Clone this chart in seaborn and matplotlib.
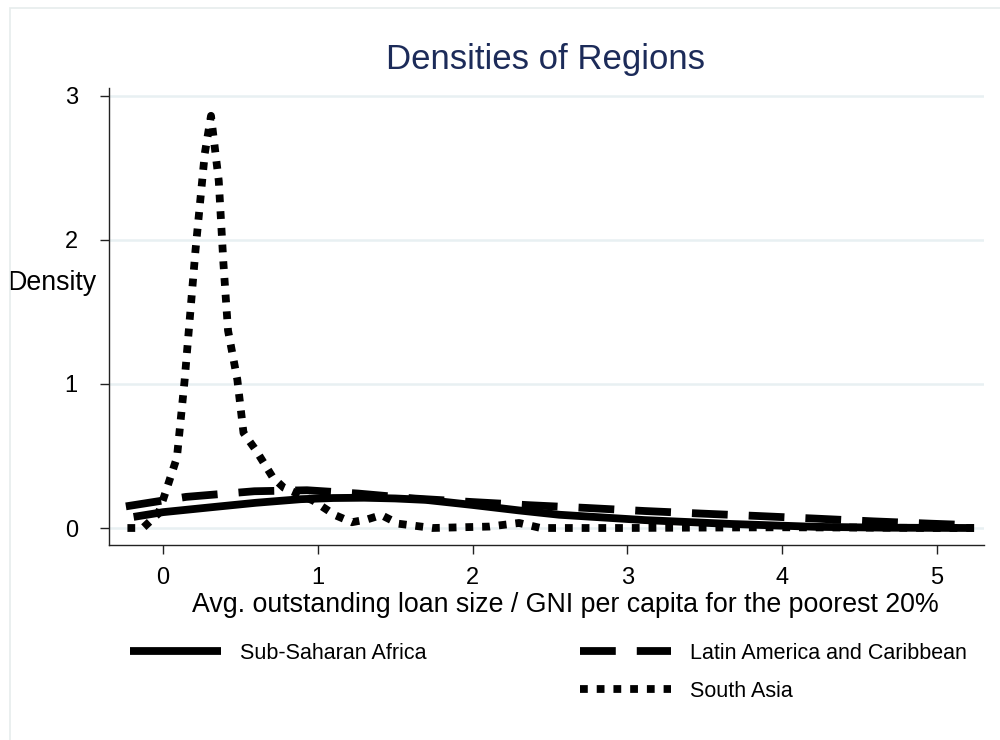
import numpy as np
import pandas as pd
import matplotlib
matplotlib.use("Agg")
import matplotlib.pyplot as plt
from matplotlib.lines import Line2D
from matplotlib.patches import Rectangle
import seaborn as sns

# Kernel density estimates by region (x = loan size / GNI per capita, poorest 20%)
ssa_x = [-0.19, 0.0, 0.33, 0.6, 0.89, 1.1, 1.3, 1.5, 1.7, 2.0, 2.3, 2.56, 3.11, 3.67, 4.22, 4.7, 5.24]
ssa_y = [0.077, 0.11, 0.146, 0.175, 0.2, 0.208, 0.21, 0.205, 0.195, 0.16, 0.122, 0.092, 0.055, 0.028, 0.008, 0.002, 0.0]

lac_x = [-0.24, 0.15, 0.59, 0.93, 1.26, 1.63, 2.0, 2.37, 2.74, 3.11, 3.48, 3.85, 4.22, 4.59, 4.96, 5.24]
lac_y = [0.15, 0.216, 0.255, 0.262, 0.239, 0.204, 0.18, 0.158, 0.139, 0.118, 0.1, 0.083, 0.065, 0.046, 0.03, 0.019]

sa_x = [-0.23, -0.13, -0.03, 0.02, 0.09, 0.14, 0.21, 0.27, 0.31, 0.36, 0.39, 0.42, 0.48, 0.52,
        0.6, 0.71, 0.78, 0.97, 1.11, 1.22, 1.32, 1.41, 1.52, 1.74, 2.11, 2.3, 2.44, 3.0, 3.5,
        4.0, 4.5, 5.0, 5.24]
sa_y = [0.0, 0.0, 0.10, 0.26, 0.49, 1.03, 1.93, 2.6, 2.86, 2.41, 1.84, 1.37, 1.03, 0.66,
        0.54, 0.35, 0.28, 0.19, 0.09, 0.04, 0.06, 0.09, 0.03, 0.0, 0.01, 0.035, 0.0, 0.0, 0.003,
        0.005, 0.003, 0.0, 0.0]

regions = ["Sub-Saharan Africa", "Latin America and Caribbean", "South Asia"]
x_ticks = [0, 1, 2, 3, 4, 5]
y_ticks = [0, 1, 2, 3]

df = pd.concat([
    pd.DataFrame({"x": ssa_x, "density": ssa_y, "region": regions[0]}),
    pd.DataFrame({"x": lac_x, "density": lac_y, "region": regions[1]}),
    pd.DataFrame({"x": sa_x, "density": sa_y, "region": regions[2]}),
], ignore_index=True)

sns.set_theme(style="white")
plt.rcParams["font.family"] = ["Liberation Sans", "DejaVu Sans"]
plt.rcParams["text.color"] = "black"

LW = 5.6
dash_map = {regions[0]: "", regions[1]: (4.6, 2.7), regions[2]: (1.0, 1.15)}

fig = plt.figure(figsize=(10, 7.4), dpi=100)
fig.patch.set_facecolor("white")
ax = fig.add_axes([0.109, 0.2635, 0.875, 0.617])

sns.lineplot(data=df, x="x", y="density", style="region", style_order=regions,
             dashes=dash_map, color="black", linewidth=LW, sort=True,
             estimator=None, legend=False, ax=ax)
for ln in ax.lines:
    ln.set_dash_capstyle("butt")
    ln.set_solid_capstyle("butt")

ax.set_xlim(-0.349, 5.304)
ax.set_ylim(-0.118, 3.05)
ax.set_xticks(x_ticks)
ax.set_yticks(y_ticks)
ax.set_xticklabels([str(t) for t in x_ticks], fontsize=17)
ax.set_yticklabels([str(t) for t in y_ticks], fontsize=17)
ax.tick_params(axis="both", direction="out", length=6.5, width=1, color="#222222",
               labelcolor="black", bottom=True, left=True)
ax.tick_params(axis="y", pad=16)
ax.tick_params(axis="x", pad=9)

ax.grid(axis="y", color="#e8f0f2", linewidth=1.8)
ax.grid(axis="x", visible=False)
ax.set_axisbelow(True)
for side in ["top", "right"]:
    ax.spines[side].set_visible(False)
for side in ["left", "bottom"]:
    ax.spines[side].set_color("#222222")
    ax.spines[side].set_linewidth(1.0)

ax.set_xlabel("")
ax.set_ylabel("Density", fontsize=19.3, rotation=0, ha="center", va="center", color="black")
ax.yaxis.set_label_coords(-0.065, 0.573)

fig.text(0.565, 1 - 605 / 740, "Avg. outstanding loan size / GNI per capita for the poorest 20%",
         fontsize=19.3, ha="center", va="center", color="black")
fig.text(0.546, 1 - 60 / 740, "Densities of Regions", fontsize=25, ha="center", va="center",
         color="#1c2b59")

# Legend: first column holds one entry, second column holds two
h_ssa = Line2D([], [], color="black", linewidth=LW, solid_capstyle="butt")
h_lac = Line2D([], [], color="black", linewidth=LW, linestyle=(0, dash_map[regions[1]]),
               dash_capstyle="butt")
h_sa = Line2D([], [], color="black", linewidth=LW, linestyle=(0, dash_map[regions[2]]),
              dash_capstyle="butt")

leg_kw = dict(frameon=False, fontsize=15.5, handlelength=4.25, handletextpad=0.84,
              labelspacing=0.78, borderaxespad=0, borderpad=0, loc="upper left",
              labelcolor="black")
fig.legend([h_ssa], [regions[0]], bbox_to_anchor=(0.130, 1 - 643 / 740), **leg_kw)
fig.legend([h_lac, h_sa], regions[1:], bbox_to_anchor=(0.580, 1 - 643 / 740), **leg_kw)

# Faint outer frame
fig.patches.append(Rectangle((0.010, -0.5), 2.0, 0.5 + 1 - 8 / 740, transform=fig.transFigure,
                             fill=False, edgecolor="#e6ecec", linewidth=1.2))

fig.savefig("out.png", dpi=100, facecolor="white")
